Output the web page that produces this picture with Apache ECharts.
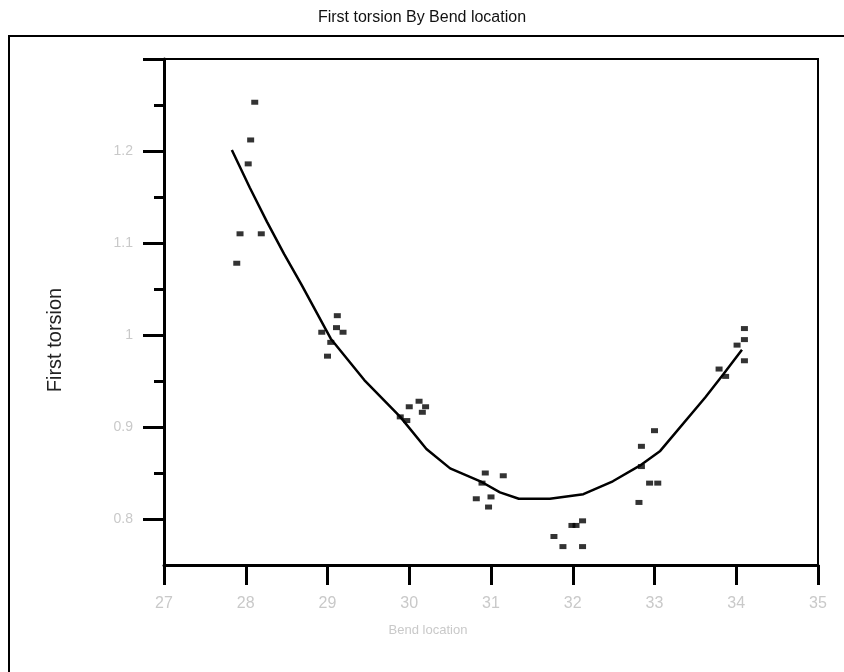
<!DOCTYPE html>
<html>
<head>
<meta charset="utf-8">
<script src="https://cdn.jsdelivr.net/npm/echarts@6/dist/echarts.min.js"></script>
<style>
html, body { margin: 0; padding: 0; background: #fff; }
#chart { width: 844px; height: 672px; }
</style>
</head>
<body>
<div id="chart"></div>
<script>
"use strict";

/***** data *****/
var bendLocation = [
	27.89, 27.93, 28.03, 28.06, 28.11, 28.19,
	28.93, 29.00, 29.04, 29.11, 29.12, 29.19,
	29.89, 29.97, 30.00, 30.12, 30.16, 30.20,
	30.82, 30.89, 30.93, 30.97, 31.00, 31.15,
	31.77, 31.88, 31.99, 32.04, 32.12, 32.12,
	32.81, 32.84, 32.84, 32.94, 33.00, 33.04,
	33.79, 33.87, 34.01, 34.10, 34.10, 34.10
];
var firstTorsion = [
	1.078, 1.110, 1.186, 1.212, 1.253, 1.110,
	1.003, 0.977, 0.992, 1.008, 1.021, 1.003,
	0.911, 0.907, 0.922, 0.928, 0.916, 0.922,
	0.822, 0.839, 0.850, 0.813, 0.824, 0.847,
	0.781, 0.770, 0.793, 0.793, 0.798, 0.770,
	0.818, 0.857, 0.879, 0.839, 0.896, 0.839,
	0.963, 0.955, 0.989, 1.007, 0.995, 0.972
];
// fitted curve
var fitX = [27.83, 28.05, 28.26, 28.47, 28.68, 29.04, 29.45, 29.89, 30.21, 30.50, 30.87, 31.11,
	31.34, 31.72, 32.13, 32.49, 32.82, 33.07, 33.62, 33.84, 34.07];
var fitY = [1.201, 1.160, 1.123, 1.088, 1.055, 0.996, 0.951, 0.911, 0.876, 0.855, 0.841, 0.829,
	0.822, 0.822, 0.827, 0.841, 0.858, 0.874, 0.932, 0.957, 0.984];

var xTicks = [27, 28, 29, 30, 31, 32, 33, 34, 35];
var yMajor = [0.8, 0.9, 1, 1.1, 1.2, 1.3];
var yMinor = [0.85, 0.95, 1.05, 1.15, 1.25];
var yLabels = [0.8, 0.9, 1, 1.1, 1.2];

var points = bendLocation.map(function (x, i) { return [x, firstTorsion[i]]; });
var fitLine = fitX.map(function (x, i) { return [x, fitY[i]]; });

/***** chart *****/
var chart = echarts.init(document.getElementById('chart'));
var gridBox = { left: 164, right: 26, top: 59, bottom: 107 };
var faint = '#c9c9c9';

var option = {
	backgroundColor: '#fff',
	animation: false,
	title: {
		text: 'First torsion By Bend location',
		left: 'center',
		top: 5,
		textStyle: { fontFamily: 'Liberation Sans', fontSize: 16, fontWeight: 'normal', color: '#111' }
	},
	graphic: [
		{
			type: 'rect',
			shape: { x: 9, y: 36, width: 900, height: 700 },
			style: { fill: 'none', stroke: '#000', lineWidth: 2 },
			silent: true
		},
		{
			type: 'text',
			x: 55, y: 340, rotation: Math.PI / 2,
			style: {
				text: 'First torsion', fill: '#222', align: 'center', verticalAlign: 'middle',
				font: '20px "Liberation Sans"'
			}
		},
		{
			type: 'text',
			x: 428, y: 630,
			style: {
				text: 'Bend location', fill: faint, align: 'center', verticalAlign: 'middle',
				font: '13px "Liberation Sans"'
			}
		}
	],
	grid: [
		Object.assign({ show: true, borderColor: '#000', borderWidth: 2 }, gridBox),
		Object.assign({ show: false }, gridBox)
	],
	xAxis: [
		{
			type: 'value', gridIndex: 0, min: 27, max: 35, interval: 1,
			axisLine: { lineStyle: { color: '#000', width: 3 } },
			axisTick: { length: 20, lineStyle: { color: '#000', width: 3 } },
			axisLabel: { margin: 31, color: faint, fontFamily: 'Liberation Sans', fontSize: 16, showMinLabel: true, showMaxLabel: true },
			splitLine: { show: false }
		},
		{
			type: 'value', gridIndex: 1, min: 27, max: 35, show: false
		}
	],
	yAxis: [
		{
			type: 'value', gridIndex: 0, min: 0.75, max: 1.3,
			axisLine: { lineStyle: { color: '#000', width: 3 } },
			axisTick: { length: 10, customValues: yMinor, lineStyle: { color: '#000', width: 3 } },
			axisLabel: { show: false },
			splitLine: { show: false }
		},
		{
			type: 'value', gridIndex: 1, min: 0.75, max: 1.3,
			axisLine: { show: false },
			axisTick: { length: 21, customValues: yMajor, lineStyle: { color: '#000', width: 3 } },
			axisLabel: { margin: 31, customValues: yLabels, color: faint, fontFamily: 'Liberation Sans', fontSize: 14 },
			splitLine: { show: false }
		}
	],
	series: [
		{
			name: 'First torsion',
			type: 'scatter',
			symbol: 'rect',
			symbolSize: [7, 5],
			itemStyle: { color: '#000' },
			data: points
		},
		{
			name: 'Fit',
			type: 'line',
			showSymbol: false,
			lineStyle: { color: '#000', width: 2.5 },
			data: fitLine
		}
	]
};

chart.setOption(option);
</script>
</body>
</html>
